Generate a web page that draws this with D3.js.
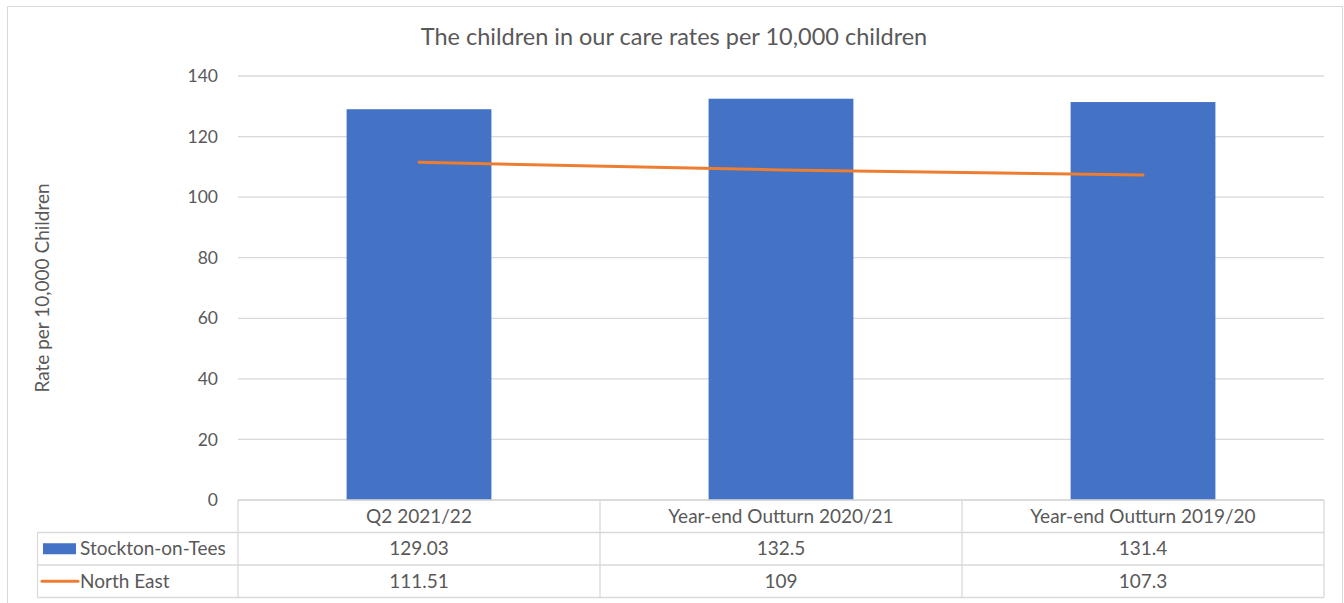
<!DOCTYPE html>
<html>
<head>
<meta charset="utf-8">
<script src="https://cdn.jsdelivr.net/npm/d3@7"></script>
<style>
  html, body { margin: 0; padding: 0; background: #fff; }
  svg { display: block; font-family: Lato, "Noto Sans", sans-serif; }
</style>
</head>
<body>
<svg id="chart"></svg>
<script>
// chart data
const categories = ["Q2 2021/22", "Year-end Outturn 2020/21", "Year-end Outturn 2019/20"];
const stocktonValues = [129.03, 132.5, 131.4];
const northEastValues = [111.51, 109, 107.3];
const seriesNames = ["Stockton-on-Tees", "North East"];
const yTicks = [0, 20, 40, 60, 80, 100, 120, 140];

const width = 1344
const height = 603
const plot = { left: 238, right: 1324, top: 76, bottom: 500 }
const rowH = 32.5
const textColor = "#595959"
const gridColor = "#d9d9d9"
const barColor = "#4472c4"
const lineColor = "#ed7d31"
const tableFont = "19px"

const svg = d3.select("#chart")
    .attr("width", width)
    .attr("height", height)

// outer chart border
svg.append("rect")
    .attr("x", 7.5).attr("y", 6.5)
    .attr("width", 1335).attr("height", 600)
    .attr("fill", "none")
    .attr("stroke", gridColor)

const x = d3.scaleBand()
    .domain(categories)
    .range([plot.left, plot.right])
    .paddingInner(0.6)
    .paddingOuter(0.3)

const y = d3.scaleLinear()
    .domain([0, 140])
    .range([plot.bottom, plot.top])

// gridlines
svg.append("g")
    .selectAll("line")
    .data(yTicks)
    .join("line")
    .attr("x1", plot.left).attr("x2", plot.right)
    .attr("y1", d => y(d)).attr("y2", d => y(d))
    .attr("stroke", gridColor)
    .attr("stroke-width", 1.3)

// y tick labels
svg.append("g")
    .selectAll("text")
    .data(yTicks)
    .join("text")
    .attr("x", 218)
    .attr("y", d => y(d))
    .attr("dy", "0.35em")
    .attr("text-anchor", "end")
    .attr("fill", textColor)
    .style("font-size", "17.5px")
    .text(d => d)

// y axis title
svg.append("text")
    .attr("transform", `translate(49,${(plot.top + plot.bottom) / 2}) rotate(-90)`)
    .attr("text-anchor", "middle")
    .attr("fill", textColor)
    .style("font-size", "19px")
    .text("Rate per 10,000 Children")

// chart title
svg.append("text")
    .attr("x", 674).attr("y", 45)
    .attr("text-anchor", "middle")
    .attr("fill", textColor)
    .style("font-size", "23.5px")
    .text("The children in our care rates per 10,000 children")

// bars
svg.append("g")
    .selectAll("rect")
    .data(stocktonValues)
    .join("rect")
    .attr("x", (d, i) => x(categories[i]))
    .attr("y", d => y(d))
    .attr("width", x.bandwidth())
    .attr("height", d => y(0) - y(d))
    .attr("fill", barColor)

// north east line
const line = d3.line()
    .x((d, i) => x(categories[i]) + x.bandwidth() / 2)
    .y(d => y(d))

svg.append("path")
    .datum(northEastValues)
    .attr("d", line)
    .attr("fill", "none")
    .attr("stroke", lineColor)
    .attr("stroke-width", 3)
    .attr("stroke-linecap", "round")

// data table
const table = svg.append("g")
const tTop = plot.bottom
const tLeft = 37.5
const step = x.step()
const colEdges = categories.map((c, i) => plot.left + i * step)

// horizontal lines
table.append("line")
    .attr("x1", plot.left).attr("x2", plot.right)
    .attr("y1", tTop).attr("y2", tTop)
    .attr("stroke", gridColor).attr("stroke-width", 1.3)
;[1, 2, 3].forEach(r => {
    table.append("line")
        .attr("x1", tLeft).attr("x2", plot.right)
        .attr("y1", tTop + r * rowH).attr("y2", tTop + r * rowH)
        .attr("stroke", gridColor).attr("stroke-width", 1.3)
})
// vertical lines
table.append("line")
    .attr("x1", tLeft).attr("x2", tLeft)
    .attr("y1", tTop + rowH).attr("y2", tTop + 3 * rowH)
    .attr("stroke", gridColor).attr("stroke-width", 1.3)
colEdges.concat([plot.right]).forEach(cx => {
    table.append("line")
        .attr("x1", cx).attr("x2", cx)
        .attr("y1", tTop).attr("y2", tTop + 3 * rowH)
        .attr("stroke", gridColor).attr("stroke-width", 1.3)
})

// header text
table.selectAll("text.head")
    .data(categories)
    .join("text")
    .attr("class", "head")
    .attr("x", d => x(d) + x.bandwidth() / 2)
    .attr("y", tTop + rowH / 2)
    .attr("dy", "0.35em")
    .attr("text-anchor", "middle")
    .attr("fill", textColor)
    .style("font-size", tableFont)
    .text(d => d)

// value rows
;[stocktonValues, northEastValues].forEach((vals, r) => {
    table.selectAll("text.row" + r)
        .data(vals)
        .join("text")
        .attr("class", "row" + r)
        .attr("x", (d, i) => x(categories[i]) + x.bandwidth() / 2)
        .attr("y", tTop + (r + 1.5) * rowH)
        .attr("dy", "0.35em")
        .attr("text-anchor", "middle")
        .attr("fill", textColor)
        .style("font-size", tableFont)
        .text(d => d)
})

// legend keys in table
const ky1 = tTop + 1.5 * rowH
const ky2 = tTop + 2.5 * rowH
table.append("rect")
    .attr("x", 43).attr("y", ky1 - 5.5)
    .attr("width", 33).attr("height", 11)
    .attr("fill", barColor)
table.append("line")
    .attr("x1", 42).attr("x2", 78)
    .attr("y1", ky2).attr("y2", ky2)
    .attr("stroke", lineColor).attr("stroke-width", 3)
    .attr("stroke-linecap", "round")
table.selectAll("text.key")
    .data(seriesNames)
    .join("text")
    .attr("class", "key")
    .attr("x", 80)
    .attr("y", (d, i) => tTop + (i + 1.5) * rowH)
    .attr("dy", "0.35em")
    .attr("fill", textColor)
    .style("font-size", tableFont)
    .text(d => d)
</script>
</body>
</html>
